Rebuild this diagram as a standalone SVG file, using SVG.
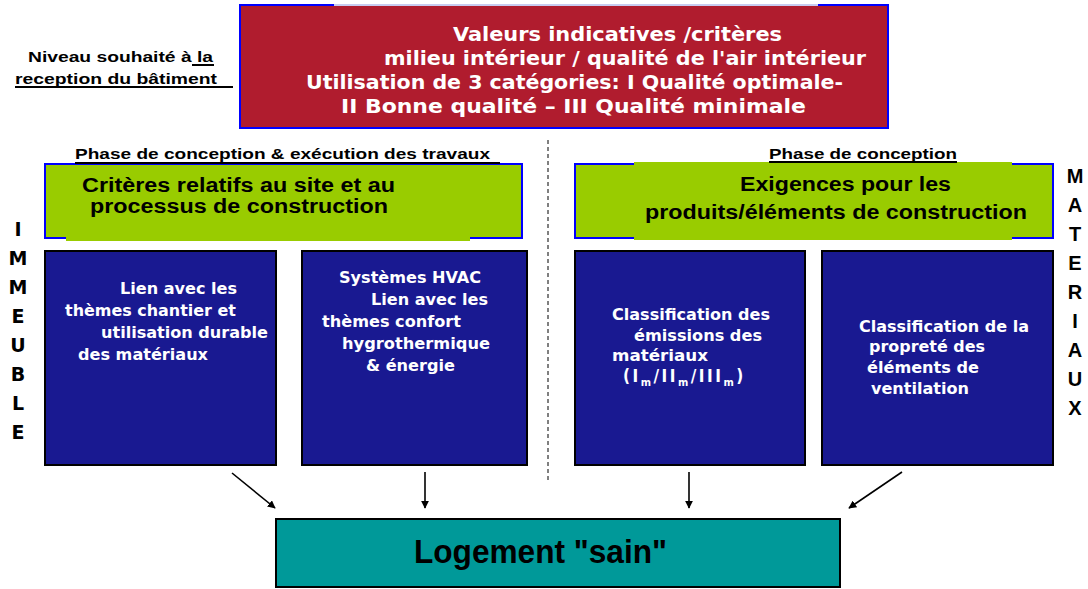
<svg xmlns="http://www.w3.org/2000/svg" width="1088" height="589" viewBox="0 0 1088 589">
<defs>
<style>
.red{fill:#b01c2e;stroke:#0000ff;stroke-width:2}
.grn{fill:#99cc00;stroke:#0000ff;stroke-width:2}
.blu{fill:#191991;stroke:#000;stroke-width:2}
.teal{fill:#009999;stroke:#000;stroke-width:2}
.tw{fill:#fff;font-family:"DejaVu Sans Condensed","DejaVu Sans",sans-serif;font-weight:bold}
.th{font-size:20px}
.tb{font-size:15px}
.ta{fill:#000;font-family:"Liberation Sans",Arial,sans-serif;font-weight:bold}
.vl{fill:#000;font-family:"DejaVu Sans",sans-serif;font-weight:bold;font-size:19px;text-anchor:middle}
.vr{fill:#000;font-family:"Liberation Sans",Arial,sans-serif;font-weight:bold;font-size:20px;text-anchor:middle}
.ul{stroke:#000;stroke-width:2}
.conn{stroke:#000;stroke-width:1.6;fill:none;marker-end:url(#ah)}
</style>
<marker id="ah" viewBox="0 0 10 10" refX="9" refY="5" markerWidth="8" markerHeight="8" markerUnits="userSpaceOnUse" orient="auto"><path d="M0,0 L10,5 L0,10 z" fill="#000"/></marker>
</defs>
<rect width="1088" height="589" fill="#fff"/>

<g id="label-niveau">
<text class="ta" font-size="14" x="28" y="62" textLength="185" lengthAdjust="spacingAndGlyphs">Niveau souhaité à la</text>
<text class="ta" font-size="14" x="15" y="84" textLength="202" lengthAdjust="spacingAndGlyphs">reception du bâtiment</text>
<line class="ul" x1="192" y1="65" x2="214" y2="65"/>
<line class="ul" x1="15" y1="87" x2="233" y2="87"/>
</g>

<g id="top">
<rect class="red" x="240" y="5" width="648" height="123"/>
<line x1="334" y1="5" x2="818" y2="5" stroke="#c8ccf0" stroke-width="2"/>
<text class="tw th" x="453" y="41" textLength="329" lengthAdjust="spacingAndGlyphs">Valeurs indicatives /critères</text>
<text class="tw th" x="384" y="65" textLength="482" lengthAdjust="spacingAndGlyphs">milieu intérieur / qualité de l'air intérieur</text>
<text class="tw th" x="306" y="89" textLength="537" lengthAdjust="spacingAndGlyphs">Utilisation de 3 catégories: I Qualité optimale-</text>
<text class="tw th" x="341" y="113" textLength="465" lengthAdjust="spacingAndGlyphs">II Bonne qualité  – III Qualité minimale</text>
</g>

<g id="divider">
<line x1="548" y1="140" x2="548" y2="482" stroke="#000" stroke-width="1" stroke-dasharray="4,3"/>
</g>

<g id="site">
<rect class="grn" x="45" y="164" width="477" height="74"/>
<rect x="66" y="236" width="404" height="5" fill="#99cc00"/>
<text class="ta" font-size="15" x="75" y="159" textLength="415" lengthAdjust="spacingAndGlyphs">Phase de conception &amp; exécution des travaux</text>
<line class="ul" x1="75" y1="163" x2="500" y2="163"/>
<text class="ta" font-size="20" x="82" y="192" textLength="313" lengthAdjust="spacingAndGlyphs">Critères relatifs au site et au</text>
<text class="ta" font-size="20" x="90" y="213" textLength="298" lengthAdjust="spacingAndGlyphs">processus de construction</text>
</g>

<g id="produits">
<rect class="grn" x="575" y="164" width="478" height="74"/>
<rect x="634" y="162" width="378" height="4" fill="#99cc00"/>
<rect x="634" y="236" width="378" height="4" fill="#99cc00"/>
<text class="ta" font-size="15" x="769" y="159" textLength="188" lengthAdjust="spacingAndGlyphs">Phase de conception</text>
<line class="ul" x1="769" y1="162" x2="957" y2="162"/>
<text class="ta" font-size="20" x="740" y="191" textLength="211" lengthAdjust="spacingAndGlyphs">Exigences pour les</text>
<text class="ta" font-size="20" x="645" y="219" textLength="382" lengthAdjust="spacingAndGlyphs">produits/éléments de construction</text>
</g>

<g id="immeuble">
<text class="vl" x="18" y="236">I</text>
<text class="vl" x="18" y="265">M</text>
<text class="vl" x="18" y="294">M</text>
<text class="vl" x="18" y="323">E</text>
<text class="vl" x="18" y="352">U</text>
<text class="vl" x="18" y="381">B</text>
<text class="vl" x="18" y="410">L</text>
<text class="vl" x="18" y="439">E</text>
</g>

<g id="materiaux">
<text class="vr" x="1075" y="183">M</text>
<text class="vr" x="1075" y="212">A</text>
<text class="vr" x="1075" y="241">T</text>
<text class="vr" x="1075" y="270">E</text>
<text class="vr" x="1075" y="299">R</text>
<text class="vr" x="1075" y="328">I</text>
<text class="vr" x="1075" y="357">A</text>
<text class="vr" x="1075" y="386">U</text>
<text class="vr" x="1075" y="415">X</text>
</g>

<g id="chantier">
<rect class="blu" x="45" y="251" width="231" height="214"/>
<text class="tw tb" x="120" y="294" textLength="117" lengthAdjust="spacingAndGlyphs">Lien avec les</text>
<text class="tw tb" x="65" y="316" textLength="171" lengthAdjust="spacingAndGlyphs">thèmes chantier et</text>
<text class="tw tb" x="101" y="338" textLength="167" lengthAdjust="spacingAndGlyphs">utilisation durable</text>
<text class="tw tb" x="78" y="360" textLength="130" lengthAdjust="spacingAndGlyphs">des matériaux</text>
</g>

<g id="hvac">
<rect class="blu" x="302" y="251" width="225" height="214"/>
<text class="tw tb" x="339" y="283" textLength="142" lengthAdjust="spacingAndGlyphs">Systèmes HVAC</text>
<text class="tw tb" x="371" y="305" textLength="117" lengthAdjust="spacingAndGlyphs">Lien avec les</text>
<text class="tw tb" x="322" y="327" textLength="139" lengthAdjust="spacingAndGlyphs">thèmes confort</text>
<text class="tw tb" x="342" y="349" textLength="148" lengthAdjust="spacingAndGlyphs">hygrothermique</text>
<text class="tw tb" x="366" y="371" textLength="89" lengthAdjust="spacingAndGlyphs">&amp; énergie</text>
</g>

<g id="emissions">
<rect class="blu" x="575" y="251" width="230" height="214" stroke-width="3"/>
<text class="tw tb" x="612" y="320" textLength="158" lengthAdjust="spacingAndGlyphs">Classification des</text>
<text class="tw tb" x="634" y="341" textLength="128" lengthAdjust="spacingAndGlyphs">émissions des</text>
<text class="tw tb" x="612" y="361" textLength="96" lengthAdjust="spacingAndGlyphs">matériaux</text>
<text class="tw" font-size="17" x="623" y="382" letter-spacing="2.5">(I<tspan font-size="11" dy="4">m</tspan><tspan dy="-4">/II</tspan><tspan font-size="11" dy="4">m</tspan><tspan dy="-4">/III</tspan><tspan font-size="11" dy="4">m</tspan><tspan dy="-4">)</tspan></text>
</g>

<g id="ventilation">
<rect class="blu" x="822" y="251" width="231" height="214"/>
<text class="tw tb" x="859" y="332" textLength="170" lengthAdjust="spacingAndGlyphs">Classification de la</text>
<text class="tw tb" x="869" y="352" textLength="116" lengthAdjust="spacingAndGlyphs">propreté des</text>
<text class="tw tb" x="867" y="373" textLength="112" lengthAdjust="spacingAndGlyphs">éléments de</text>
<text class="tw tb" x="871" y="394" textLength="98" lengthAdjust="spacingAndGlyphs">ventilation</text>
</g>

<g id="logement">
<rect class="teal" x="276" y="519" width="564" height="68"/>
<text x="414" y="563" font-family="'Liberation Sans Narrow','Liberation Sans',Arial,sans-serif" font-weight="bold" font-size="33" fill="#000" textLength="253" lengthAdjust="spacingAndGlyphs">Logement "sain"</text>
</g>

<g id="connectors">
<line class="conn" x1="232" y1="473" x2="275" y2="508"/>
<line class="conn" x1="425" y1="472" x2="425" y2="508"/>
<line class="conn" x1="689" y1="472" x2="689" y2="508"/>
<line class="conn" x1="902" y1="472" x2="849" y2="508"/>
</g>
</svg>
